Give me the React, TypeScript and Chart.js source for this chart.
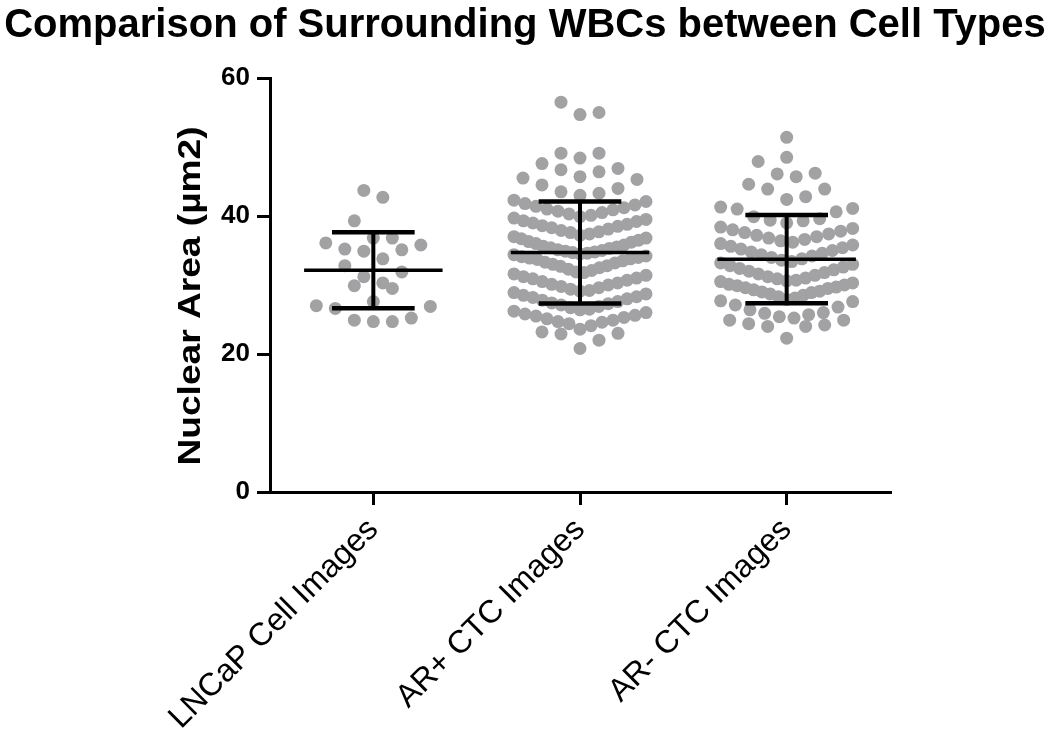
import React, { useEffect, useRef } from "react";
import { Chart, registerables } from "chart.js";

Chart.register(...registerables);

const TITLE = "Comparison of Surrounding WBCs between Cell Types";
const Y_TITLE = "Nuclear Area (µm2)";
const CATEGORIES = ["LNCaP Cell Images", "AR+ CTC Images", "AR- CTC Images"];
const Y_TICKS = [0, 20, 40, 60];

const LNCAP = [
  43.7, 42.7, 39.3, 36.8, 36.8, 36.1, 35.8, 35.2, 35.1, 34.9, 33.8, 32.8, 31.9,
  31.2, 30.3, 29.9, 29.5, 27.6, 27.0, 26.9, 26.6, 25.2, 24.9, 24.7, 24.7,
];

const AR_POS = [
  56.5, 55.0, 54.7, 49.1, 49.1, 48.4, 47.6, 46.9, 46.7, 46.4, 45.7, 45.5, 45.3,
  44.5, 44.0, 43.5, 43.3, 43.0, 42.3, 42.1,
  41.8, 41.6, 41.4, 41.2, 41.0, 40.9, 40.7, 40.5, 40.3,
  40.1, 39.9, 39.7, 39.5, 39.3, 39.2, 39.0, 38.8, 38.6, 38.5,
  38.3, 38.1, 37.9, 37.7, 37.6, 37.4, 37.2, 37.0, 36.8, 36.7,
  36.5, 36.3, 36.2, 36.0, 35.8, 35.6, 35.5, 35.4, 35.3, 35.1, 35.0, 34.9,
  34.8, 34.7, 34.6, 34.5, 34.4, 34.2, 34.1, 34.0, 33.9, 33.8, 33.7, 33.5, 33.3, 33.2,
  33.0, 32.8, 32.7, 32.5, 32.3, 32.1, 31.9, 31.8, 31.6, 31.4,
  31.2, 31.0, 30.9, 30.7, 30.5, 30.3, 30.1, 30.0, 29.8, 29.6,
  29.4, 29.2, 29.1, 28.9, 28.7, 28.5, 28.3, 28.2, 28.0, 27.8,
  27.6, 27.4, 27.3, 27.1, 26.9, 26.7, 26.5, 26.4, 26.2, 26.0,
  25.8, 25.6, 25.5, 25.3, 25.1, 24.9, 24.7, 24.6, 24.4,
  24.1, 23.6, 23.2, 23.0, 22.9, 22.0, 20.8,
];

const AR_NEG = [
  51.4, 48.5, 47.9, 46.2, 46.1, 45.7, 44.6, 43.9, 43.9, 42.8, 42.4, 41.3, 41.1,
  41.0, 40.6, 39.9, 39.6, 39.4, 39.3, 39.0, 38.4,
  38.2, 38.0, 37.8, 37.6, 37.4, 37.2, 37.0, 36.8,
  36.6, 36.4, 36.2, 36.0, 35.8, 35.6, 35.4, 35.2, 35.0,
  34.8, 34.6, 34.4, 34.2, 34.0, 33.8, 33.6, 33.4, 33.2, 33.0,
  32.8, 32.6, 32.4, 32.2, 32.0, 31.8, 31.6, 31.4, 31.2, 31.0,
  30.9, 30.7, 30.6, 30.5, 30.3, 30.1, 30.0, 29.9, 29.7, 29.6, 29.5, 29.3,
  29.1, 29.0, 28.9, 28.7, 28.5, 28.3, 28.1, 27.9, 27.7,
  27.6, 27.1, 26.8, 26.4, 26.0, 25.9, 25.7, 25.4, 25.2, 24.9, 24.9, 24.4, 24.2,
  24.0, 24.0, 22.3,
];

const GROUPS = [LNCAP, AR_POS, AR_NEG];

// layout (pixels)
const W = 1050;
const H = 737;
const AREA_LEFT = 270;
const AREA_RIGHT = 890;
const AREA_TOP = 78;
const AREA_BOTTOM = 492;
const X_MIN = 0.5;
const X_MAX = 3.5;
const Y_MIN = 0;
const Y_MAX = 60;

const DOT_COLOR = "#a2a2a4";
const DOT_R = 6.5;
const ROW_PX = 18;
const STEP_PX = 19;
const HALF_W = [58, 66, 66];

const FONT = "'Liberation Sans', Arial, Helvetica, sans-serif";

function mean(a: number[]) {
  return a.reduce((s, v) => s + v, 0) / a.length;
}
function sd(a: number[]) {
  const m = mean(a);
  return Math.sqrt(a.reduce((s, v) => s + (v - m) * (v - m), 0) / (a.length - 1));
}

function swarm(values: number[], center: number, halfW: number) {
  const pxX = (AREA_RIGHT - AREA_LEFT) / (X_MAX - X_MIN);
  const pxY = (AREA_BOTTOM - AREA_TOP) / (Y_MAX - Y_MIN);
  const sorted = values.slice().sort((a, b) => a - b);
  const rows: number[][] = [];
  let cur: number[] = [];
  let start = 0;
  for (const v of sorted) {
    if (cur.length && (v - start) * pxY >= ROW_PX) {
      rows.push(cur);
      cur = [];
    }
    if (!cur.length) start = v;
    cur.push(v);
  }
  if (cur.length) rows.push(cur);
  const pts: { x: number; y: number }[] = [];
  for (const row of rows) {
    const n = row.length;
    const sp = n > 1 ? Math.min(STEP_PX, (2 * halfW) / (n - 1)) : 0;
    const slots: number[] = [];
    for (let k = 0; k < n; k++) slots.push((k - (n - 1) / 2) * sp);
    slots.sort((a, b) => Math.abs(a) - Math.abs(b) || b - a);
    row.forEach((v, i) => pts.push({ x: center + slots[i] / pxX, y: v }));
  }
  return pts;
}

const errorBarsPlugin = {
  id: "errorBars",
  afterDatasetsDraw(chart: any) {
    const { ctx, scales } = chart;
    const x = scales.x;
    const y = scales.y;
    const line = (x1: number, y1: number, x2: number, y2: number, w: number) => {
      ctx.lineWidth = w;
      ctx.beginPath();
      ctx.moveTo(x1, y1);
      ctx.lineTo(x2, y2);
      ctx.stroke();
    };
    ctx.save();
    ctx.strokeStyle = "#000";
    ctx.lineCap = "butt";
    GROUPS.forEach((vals, i) => {
      const c = i + 1;
      const m = mean(vals);
      const s = sd(vals);
      const ym = y.getPixelForValue(m);
      const yt = y.getPixelForValue(m + s);
      const yb = y.getPixelForValue(m - s);
      const xc = x.getPixelForValue(c);
      line(x.getPixelForValue(c - 0.335), ym, x.getPixelForValue(c + 0.335), ym, 3.5);
      line(xc, yt, xc, yb, 4);
      line(x.getPixelForValue(c - 0.2), yt, x.getPixelForValue(c + 0.2), yt, 4.5);
      line(x.getPixelForValue(c - 0.2), yb, x.getPixelForValue(c + 0.2), yb, 4.5);
    });
    ctx.restore();
  },
};

const textPlugin = {
  id: "texts",
  afterDraw(chart: any) {
    const { ctx } = chart;
    ctx.save();
    ctx.fillStyle = "#000";
    ctx.font = `bold 40px ${FONT}`;
    ctx.textAlign = "center";
    ctx.textBaseline = "alphabetic";
    ctx.fillText(TITLE, W / 2, 37);
    ctx.restore();

    ctx.save();
    ctx.fillStyle = "#000";
    ctx.translate(191, 296);
    ctx.rotate(-Math.PI / 2);
    ctx.scale(1.16, 1);
    ctx.font = `bold 32px ${FONT}`;
    ctx.textAlign = "center";
    ctx.textBaseline = "middle";
    ctx.fillText(Y_TITLE, 0, 0);
    ctx.restore();
  },
};

export default function App() {
  const ref = useRef<HTMLCanvasElement | null>(null);

  useEffect(() => {
    if (!ref.current) return;
    const datasets = GROUPS.map((vals, i) => ({
      label: CATEGORIES[i],
      data: swarm(vals, i + 1, HALF_W[i]),
      pointRadius: DOT_R,
      pointHoverRadius: DOT_R,
      pointBackgroundColor: DOT_COLOR,
      pointBorderWidth: 0,
      showLine: false,
    }));
    const chart = new Chart(ref.current, {
      type: "scatter",
      data: { datasets },
      options: {
        responsive: false,
        animation: false,
        events: [],
        layout: { padding: { top: AREA_TOP, right: W - AREA_RIGHT, left: 0, bottom: 0 } },
        plugins: {
          legend: { display: false },
          tooltip: { enabled: false },
          title: { display: false },
        },
        scales: {
          x: {
            type: "linear",
            min: X_MIN,
            max: X_MAX,
            afterBuildTicks: (s: any) => {
              s.ticks = CATEGORIES.map((_, i) => ({ value: i + 1 }));
            },
            afterFit: (s: any) => {
              s.height = H - AREA_BOTTOM;
            },
            ticks: {
              autoSkip: false,
              minRotation: 45,
              maxRotation: 45,
              padding: 6,
              color: "#000",
              font: { family: FONT, size: 32, weight: "normal" },
              callback: (v: any) => CATEGORIES[Math.round(Number(v)) - 1] ?? "",
            },
            grid: {
              drawOnChartArea: false,
              drawTicks: true,
              tickLength: 13,
              color: "#000",
              lineWidth: 3,
            },
            border: { display: true, color: "#000", width: 3 },
          },
          y: {
            type: "linear",
            min: Y_MIN,
            max: Y_MAX,
            afterBuildTicks: (s: any) => {
              s.ticks = Y_TICKS.map((v) => ({ value: v }));
            },
            afterFit: (s: any) => {
              s.width = AREA_LEFT;
            },
            ticks: {
              color: "#000",
              padding: 7,
              font: { family: FONT, size: 26, weight: "bold" },
            },
            grid: {
              drawOnChartArea: false,
              drawTicks: true,
              tickLength: 13,
              color: "#000",
              lineWidth: 3,
            },
            border: { display: true, color: "#000", width: 3 },
          },
        },
      },
      plugins: [errorBarsPlugin, textPlugin],
    } as any);
    return () => chart.destroy();
  }, []);

  return (
    <div
      style={{
        position: "fixed",
        left: 0,
        top: 0,
        width: W,
        height: H,
        background: "#fff",
      }}
    >
      <canvas ref={ref} width={W} height={H} style={{ display: "block" }} />
    </div>
  );
}
